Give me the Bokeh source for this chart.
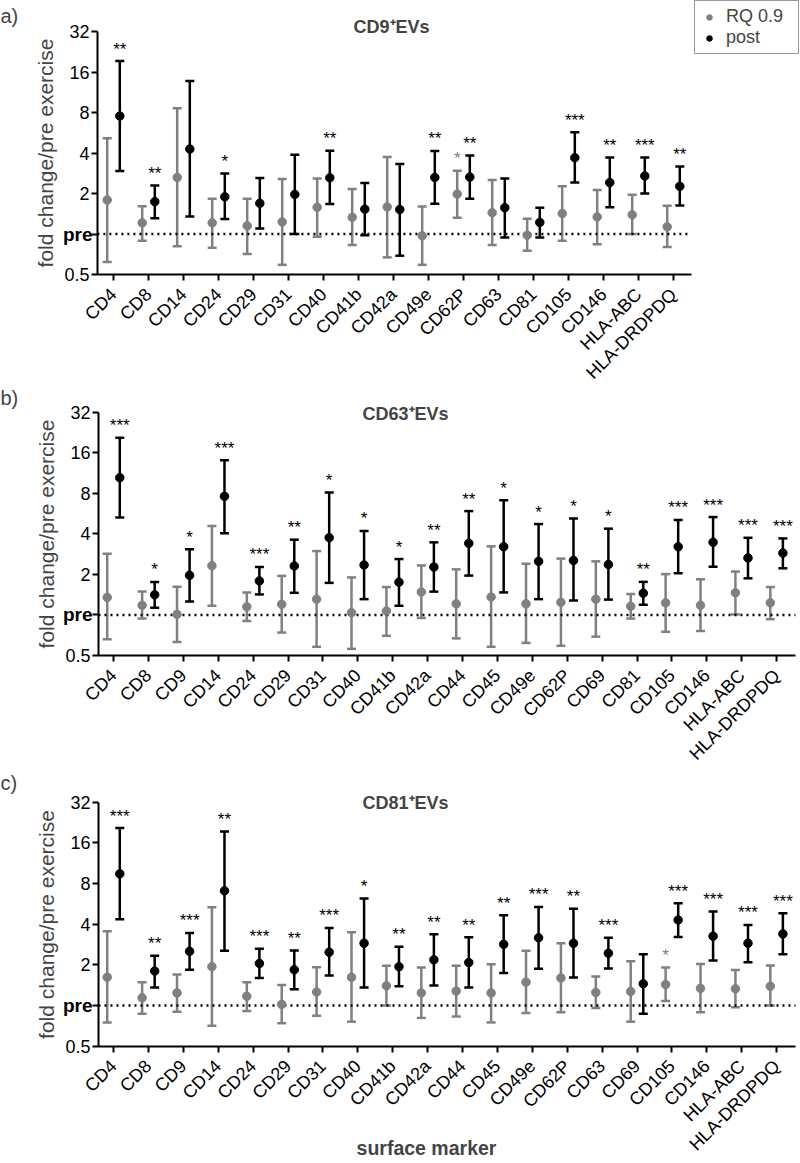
import numpy as np
from bokeh.plotting import figure
from bokeh.models import (ColumnDataSource, Range1d, FixedTicker, Whisker, TeeHead,
                          Label, Legend, LegendItem, LinearAxis, LogAxis)
from bokeh.layouts import column
from bokeh.embed import file_html
from bokeh.resources import INLINE
from bokeh.core.properties import value

# ---------------- data (fold change / pre exercise) ----------------
markers_a = ["CD4", "CD8", "CD14", "CD24", "CD29", "CD31", "CD40", "CD41b", "CD42a",
             "CD49e", "CD62P", "CD63", "CD81", "CD105", "CD146", "HLA-ABC", "HLA-DRDPDQ"]
rq_a = [1.79, 1.21, 2.63, 1.21, 1.15, 1.23, 1.58, 1.33, 1.59, 0.97, 1.98, 1.44, 0.98, 1.42, 1.34, 1.39, 1.13]
rq_a_lo = [0.62, 0.89, 0.81, 0.79, 0.71, 0.59, 0.955, 0.83, 0.67, 0.59, 1.32, 0.83, 0.75, 0.89, 0.84, 1.0, 0.80]
rq_a_hi = [5.14, 1.61, 8.6, 1.83, 1.83, 2.56, 2.59, 2.16, 3.73, 1.60, 2.95, 2.52, 1.30, 2.26, 2.12, 1.96, 1.62]
post_a = [7.53, 1.74, 4.28, 1.89, 1.69, 1.97, 2.62, 1.53, 1.52, 2.63, 2.65, 1.57, 1.22, 3.69, 2.41, 2.70, 2.26]
post_a_lo = [2.94, 1.31, 1.35, 1.29, 1.10, 1.0, 1.67, 0.98, 0.69, 1.68, 1.83, 0.94, 0.94, 2.41, 1.58, 2.0, 1.63]
post_a_hi = [19.3, 2.29, 13.7, 2.82, 2.61, 3.89, 4.16, 2.39, 3.31, 4.14, 3.84, 2.59, 1.57, 5.7, 3.71, 3.71, 3.17]
rq_a_sig = ["", "", "", "", "", "", "", "", "", "", "*", "", "", "", "", "", ""]
post_a_sig = ["**", "**", "", "*", "", "", "**", "", "", "**", "**", "", "", "***", "**", "***", "**"]

markers_b = ["CD4", "CD8", "CD9", "CD14", "CD24", "CD29", "CD31", "CD40", "CD41b", "CD42a",
             "CD44", "CD45", "CD49e", "CD62P", "CD69", "CD81", "CD105", "CD146", "HLA-ABC", "HLA-DRDPDQ"]
rq_b = [1.35, 1.18, 1.01, 2.32, 1.15, 1.20, 1.31, 1.04, 1.07, 1.48, 1.21, 1.36, 1.21, 1.24, 1.31, 1.16, 1.23, 1.18, 1.46, 1.23]
rq_b_lo = [0.66, 0.94, 0.63, 1.17, 0.90, 0.74, 0.58, 0.56, 0.70, 0.95, 0.67, 0.58, 0.62, 0.59, 0.69, 0.94, 0.75, 0.76, 1.01, 0.93]
rq_b_hi = [2.85, 1.49, 1.62, 4.57, 1.47, 1.95, 2.98, 1.90, 1.61, 2.33, 2.18, 3.23, 2.40, 2.62, 2.50, 1.43, 2.01, 1.84, 2.10, 1.61]
post_b = [10.45, 1.41, 1.97, 7.6, 1.79, 2.31, 3.75, 2.35, 1.75, 2.27, 3.4, 3.21, 2.5, 2.54, 2.37, 1.45, 3.21, 3.46, 2.65, 2.88]
post_b_lo = [5.3, 1.13, 1.26, 4.04, 1.42, 1.46, 1.73, 1.31, 1.17, 1.49, 1.96, 1.47, 1.31, 1.28, 1.30, 1.19, 2.04, 2.28, 1.87, 2.22]
post_b_hi = [20.7, 1.76, 3.07, 14.1, 2.27, 3.62, 8.1, 4.2, 2.6, 3.46, 5.9, 7.1, 4.73, 5.2, 4.37, 1.76, 5.07, 5.33, 3.74, 3.7]
rq_b_sig = [""] * 20
post_b_sig = ["***", "*", "*", "***", "***", "**", "*", "*", "*", "**", "**", "*", "*", "*", "*", "**",
              "***", "***", "***", "***"]

markers_c = ["CD4", "CD8", "CD9", "CD14", "CD24", "CD29", "CD31", "CD40", "CD41b", "CD42a",
             "CD44", "CD45", "CD49e", "CD62P", "CD63", "CD69", "CD105", "CD146", "HLA-ABC", "HLA-DRDPDQ"]
rq_c = [1.62, 1.14, 1.24, 1.94, 1.17, 1.02, 1.26, 1.62, 1.40, 1.24, 1.28, 1.24, 1.49, 1.60, 1.25, 1.27, 1.43, 1.34, 1.33, 1.39]
rq_c_lo = [0.75, 0.87, 0.90, 0.71, 0.91, 0.74, 0.84, 0.76, 1.0, 0.81, 0.83, 0.75, 0.88, 0.89, 0.96, 0.76, 1.08, 0.89, 0.97, 1.0]
rq_c_hi = [3.55, 1.49, 1.70, 5.35, 1.49, 1.42, 1.92, 3.49, 1.97, 1.91, 1.97, 2.02, 2.54, 2.89, 1.64, 2.13, 1.91, 2.03, 1.83, 1.98]
post_c = [9.44, 1.80, 2.52, 7.06, 2.05, 1.84, 2.48, 2.89, 1.94, 2.18, 2.08, 2.84, 3.17, 2.89, 2.44, 1.45, 4.30, 3.26, 2.89, 3.39]
post_c_lo = [4.36, 1.36, 1.84, 2.54, 1.60, 1.32, 1.67, 1.36, 1.39, 1.41, 1.36, 1.74, 1.87, 1.61, 1.88, 0.87, 3.22, 2.15, 2.09, 2.40]
post_c_hi = [20.6, 2.34, 3.45, 19.4, 2.63, 2.55, 3.75, 6.2, 2.72, 3.37, 3.2, 4.66, 5.37, 5.2, 3.17, 2.40, 5.72, 4.96, 3.95, 4.82]
rq_c_sig = [""] * 16 + ["*"] + [""] * 3
post_c_sig = ["***", "**", "***", "**", "***", "**", "***", "*", "**", "**", "**", "**", "***", "**", "***", "",
              "***", "***", "***", "***"]

y_ticks = [0.5, 1, 2, 4, 8, 16, 32]
y_tick_labels = ["0.5", "", "2", "4", "8", "16", "32"]
series_names = ["RQ 0.9", "post"]

# ---------------- style / layout ----------------
FONT = "Liberation Sans"
GREY = "#808080"
BLACK = "#000000"
OFF = 0.18
W = 800


def make_panel(markers, g, glo, ghi, gsig, b, blo, bhi, bsig, *, letter, title, H,
               y32, y05, tick0, pitch, xb, title_x, title_base, letter_cy,
               legend_box=None, xlabel_pos=None):
    n = len(markers)
    idx = np.arange(n)
    ppo = (y05 - y32) / 6.0
    x_start = (0 - tick0) / pitch
    x_end = (W - tick0) / pitch
    y_top = 32 * 2 ** (y32 / ppo)
    y_bot = 0.5 / 2 ** ((H - y05) / ppo)
    p = figure(width=W, height=H, y_axis_type="log",
               x_range=Range1d(x_start, x_end), y_range=Range1d(y_bot, y_top),
               x_axis_location=None, y_axis_location=None,
               output_backend="svg", toolbar_location=None, min_border=0)
    p.outline_line_color = None
    p.xgrid.visible = False
    p.ygrid.visible = False
    p.background_fill_color = "white"
    p.border_fill_color = "white"

    xaxis = LinearAxis(fixed_location=0.5, bounds=xb)
    yaxis = LogAxis(fixed_location=xb[0], bounds=(0.5, 32))
    for ax in (xaxis, yaxis):
        ax.axis_line_width = 2
        ax.axis_line_color = BLACK
        ax.major_tick_line_width = 2
        ax.major_tick_line_color = BLACK
        ax.major_tick_out = 6
        ax.major_tick_in = 0
        ax.minor_tick_line_color = None
        ax.major_label_text_font = FONT
        ax.major_label_text_font_size = "18px"
        ax.major_label_text_color = BLACK
    xaxis.ticker = FixedTicker(ticks=list(range(n)))
    xaxis.major_label_overrides = {i: m for i, m in enumerate(markers)}
    xaxis.major_label_orientation = np.pi / 4
    xaxis.major_label_standoff = 11
    yaxis.ticker = FixedTicker(ticks=y_ticks)
    yaxis.major_label_overrides = dict(zip(y_ticks, y_tick_labels))
    yaxis.major_label_standoff = 2
    yaxis.axis_label = "fold change/pre exercise"
    yaxis.axis_label_text_font = FONT
    yaxis.axis_label_text_font_style = "normal"
    yaxis.axis_label_text_font_size = "21px"
    yaxis.axis_label_standoff = 4
    p.add_layout(xaxis, "below")
    p.add_layout(yaxis, "left")

    # dotted baseline at 'pre' (fold change 1) across the axis extent
    p.segment(x0=[xb[0]], y0=[1], x1=[xb[1]], y1=[1], line_color=BLACK, line_width=2.5,
              line_dash="2 4")

    gsrc = ColumnDataSource(dict(x=idx - OFF, y=g, lo=glo, hi=ghi, sig=gsig))
    bsrc = ColumnDataSource(dict(x=idx + OFF, y=b, lo=blo, hi=bhi, sig=bsig))
    for src, col in ((gsrc, GREY), (bsrc, BLACK)):
        w = Whisker(base="x", lower="lo", upper="hi", source=src, line_color=col, line_width=2.5,
                    lower_head=TeeHead(size=9, line_color=col, line_width=2.5),
                    upper_head=TeeHead(size=9, line_color=col, line_width=2.5),
                    level="underlay")
        p.add_layout(w)
    rg = p.scatter("x", "y", source=gsrc, size=8.5, fill_color=GREY, line_color=GREY)
    rb = p.scatter("x", "y", source=bsrc, size=8.5, fill_color=BLACK, line_color=BLACK)
    for src, col in ((gsrc, GREY), (bsrc, BLACK)):
        p.text("x", "hi", text="sig", source=src, text_font=value(FONT),
               text_font_size=value("17px"), text_align="center",
               text_baseline="alphabetic", y_offset=-12, text_color=col)

    # bold 'pre' tick label
    p.add_layout(Label(x=92, y=1, x_units="screen", y_units="data", text="pre",
                       text_font=FONT, text_font_style="bold", text_font_size="19px",
                       text_align="right", text_baseline="middle", text_color=BLACK))
    # panel title
    p.add_layout(Label(x=title_x, y=H - title_base, x_units="screen", y_units="screen",
                       text=title, text_font=FONT, text_font_style="bold",
                       text_font_size="18px", text_align="left", text_baseline="alphabetic"))
    # panel letter
    p.add_layout(Label(x=0, y=H - letter_cy, x_units="screen", y_units="screen",
                       text=letter, text_font=FONT, text_font_size="20px",
                       text_align="left", text_baseline="middle"))
    if xlabel_pos:
        p.add_layout(Label(x=xlabel_pos[0], y=H - xlabel_pos[1], x_units="screen", y_units="screen",
                           text="surface marker", text_font=FONT, text_font_style="bold",
                           text_font_size="19.5px", text_align="center", text_baseline="middle"))
    if legend_box:
        lg = Legend(items=[LegendItem(label=series_names[0], renderers=[rg]),
                           LegendItem(label=series_names[1], renderers=[rb])],
                    location=(legend_box[0], H - legend_box[1]))
        lg.label_text_font = FONT
        lg.label_text_font_size = "18px"
        lg.label_height = 14
        lg.label_width = 67
        lg.glyph_height = 14
        lg.glyph_width = 18
        lg.spacing = 0
        lg.padding = 5
        lg.margin = 0
        lg.label_standoff = 8
        lg.border_line_color = "#333333"
        lg.border_line_width = 1.5
        lg.background_fill_alpha = 1
        p.add_layout(lg)
    return p


pa = make_panel(markers_a, rq_a, rq_a_lo, rq_a_hi, rq_a_sig, post_a, post_a_lo, post_a_hi, post_a_sig,
                letter="a)", title="CD9\u207aEVs", H=383, y32=31, y05=274, tick0=113, pitch=35,
                xb=(-0.46, 16.5), title_x=353, title_base=26, letter_cy=15,
                legend_box=(694, 54))
pb = make_panel(markers_b, rq_b, rq_b_lo, rq_b_hi, rq_b_sig, post_b, post_b_lo, post_b_hi, post_b_sig,
                letter="b)", title="CD63\u207aEVs", H=383, y32=28.7, y05=272, tick0=113, pitch=34.9,
                xb=(-0.43, 19.54), title_x=362, title_base=30, letter_cy=14)
pc = make_panel(markers_c, rq_c, rq_c_lo, rq_c_hi, rq_c_sig, post_c, post_c_lo, post_c_hi, post_c_sig,
                letter="c)", title="CD81\u207aEVs", H=397, y32=35.7, y05=279.7, tick0=113, pitch=34.9,
                xb=(-0.43, 19.54), title_x=362, title_base=36, letter_cy=16,
                xlabel_pos=(426, 381))

layout = column(pa, pb, pc, spacing=0)
open("out.html", "w").write(file_html(layout, INLINE))
